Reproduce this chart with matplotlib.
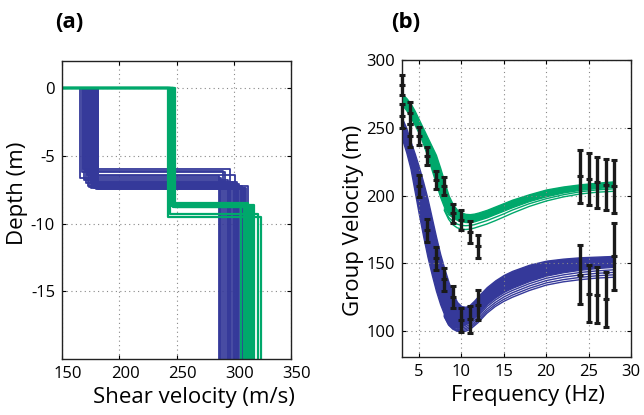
import matplotlib
matplotlib.use("Agg")
import matplotlib.pyplot as plt
from matplotlib.transforms import ScaledTranslation

plt.rcParams['font.family'] = ['Open Sans', 'DejaVu Sans']
plt.rcParams['axes.unicode_minus'] = False

BLUE = '#35399a'
GREEN = '#00a86b'

# ---- panel (a): shear velocity profiles (layer velocity, interface depth, half-space velocity)
blue_v1 = [165.5, 167.5, 169.5, 171, 172, 173, 174, 175, 175.5, 176, 176.5, 177, 177.5,
           178, 178.5, 179, 179, 179.5, 180, 180, 180.5, 181, 181, 181.5, 168, 170, 174.5]
blue_depth = [-6.6, -6.2, -6.8, -7.0, -6.4, -7.2, -7.3, -6.9, -7.4, -7.1, -7.3, -6.95, -7.25,
              -7.35, -7.15, -7.4, -7.05, -7.3, -7.45, -7.2, -7.35, -7.4, -7.1, -7.45, -5.95, -6.1, -6.5]
blue_v2 = [289, 292, 295, 288, 301, 306, 298, 303, 310, 296, 304, 299, 307,
           309, 302, 311, 305, 300, 308, 312, 294, 306, 303, 309, 297, 291, 287]

green_v1 = [243, 244.5, 245.5, 246.5, 247, 248, 249, 244, 242.5]
green_depth = [-8.5, -8.6, -8.7, -8.8, -8.55, -8.65, -8.75, -9.3, -9.55]
green_v2 = [312, 309, 316, 314, 311, 318, 306, 321, 324]

# ---- panel (b): dispersion curves
freq = [3, 3.5, 4, 4.5, 5, 5.5, 6, 6.5, 7, 7.5, 8, 8.5, 9, 9.5, 10, 10.5, 11, 11.5, 12,
        13, 14, 15, 16, 18, 20, 22, 24, 26, 28]
blue_top = [257, 250, 240, 231, 221, 210, 198, 184, 170, 157, 146, 136, 127.5, 121.5, 118.5,
            118, 119.5, 122.5, 126, 132.5, 137.5, 141.5, 144.5, 149, 152, 153.5, 154.5, 155, 155.5]
blue_low = [242, 232, 220, 203, 186, 170, 155, 142, 130, 120, 112, 106.5, 103.5, 103, 103.5,
            105, 107, 110, 113, 120, 125, 129, 132, 137, 141, 143.5, 145.3, 146.6, 147.5]
green_top = [275, 272, 268, 262.5, 256, 249.5, 243, 236.5, 230, 220.5, 210, 200, 193.5, 189.5, 187.5,
             186.5, 186.3, 186.7, 187.5, 189.5, 192, 194.5, 197, 201, 204.5, 206.7, 208.3, 209.5, 210.5]
green_low = [267, 263, 258, 252, 246, 238, 229, 219, 209, 199, 191, 186, 184, 182, 181,
             180.5, 180.5, 181, 182, 184, 186.5, 189, 191.5, 196, 199.5, 202.3, 204.3, 205.6, 206.5]

freq_tail = [8, 8.5, 9, 9.5, 10, 10.5, 11, 11.5, 12, 13, 14, 15, 16, 18, 20, 22, 24, 26, 28]
blue_lines = [
    [112, 106, 103, 102.2, 102.2, 103.2, 105, 107.8, 111, 118, 123, 127, 130, 135, 139, 141.5, 143.3, 144.5, 145.3],
    [111.5, 105.5, 102.5, 101.3, 101.2, 102, 103.6, 106.3, 109.3, 116.2, 121.2, 125.2, 128.3, 133.3, 137.3, 139.8, 141.5, 142.7, 143.4],
    [111, 105, 102, 100.6, 100.3, 101, 102.4, 105, 107.8, 114.6, 119.6, 123.5, 126.6, 131.6, 135.6, 138, 139.7, 140.9, 141.6],
    [110.5, 104.5, 101.5, 100, 99.5, 100, 101.2, 103.8, 106.5, 113.2, 118.2, 122, 125, 130, 134, 136.4, 138, 139.2, 139.8],
]
green_lines = [
    [190, 184, 181, 179, 178, 177.8, 178, 178.5, 179.5, 181.5, 184, 186.5, 189.3, 194, 197.7, 200.6, 202.8, 204.2, 205],
    [189, 182.5, 178.5, 176.3, 175.3, 175, 175.3, 176, 177, 179, 181.5, 184.2, 187, 192, 196, 199, 201.2, 202.5, 203.2],
]

# observed group velocities with error bars
obs_f = [3, 4, 5, 6, 7, 8, 9, 10, 11, 12, 24, 25, 26, 27, 28,
         3, 4, 5, 6, 7, 8, 9, 10, 11, 12, 24, 25, 26, 27, 28]
obs_v = [281.5, 260.8, 244, 229.4, 211.3, 206.9, 186.8, 181.9, 173, 162.7, 214.2, 212.3, 209.8, 208.1, 206.9,
         258.8, 244.1, 206.9, 174.3, 153.7, 138.2, 125.2, 108.3, 108.8, 119.1, 141.7, 127.7, 126.7, 123.5, 155.4]
obs_err = [7.5, 8, 6.7, 6.7, 6.7, 6.7, 6.7, 7.3, 8.3, 8.6, 19.6, 19, 18.9, 19, 19.6,
           8.6, 8.6, 8, 8.6, 8.6, 8.3, 8.3, 9, 9.8, 11, 22, 20.8, 20.8, 20.5, 24.7]


def style_axes(ax):
    ax.grid(True, linestyle=(0, (1, 3)), color='#888888', linewidth=0.8)
    ax.tick_params(direction='in', length=3, top=True, right=True, labelsize=12, pad=5)
    for sp in ax.spines.values():
        sp.set_linewidth(1.0)
        sp.set_color('#222222')


fig = plt.figure(figsize=(6.44, 4.15), dpi=100)
ax1 = fig.add_axes([0.0963, 0.1349, 0.3556, 0.7181])
ax2 = fig.add_axes([0.6242, 0.1398, 0.3556, 0.7157])

# panel (a)
for v1, d, v2 in zip(blue_v1, blue_depth, blue_v2):
    ax1.plot([100, v1, v1, v2, v2], [0, 0, d, d, -25], color=BLUE, lw=1.3)
for v1, d, v2 in zip(green_v1, green_depth, green_v2):
    ax1.plot([100, v1, v1, v2, v2], [0, 0, d, d, -25], color=GREEN, lw=1.6)
ax1.set_xlim(150, 350)
ax1.set_ylim(-20, 2)
ax1.set_xticks([150, 200, 250, 300, 350])
ax1.set_yticks([0, -5, -10, -15])
style_axes(ax1)
# tick labels in the original sit a few pixels right of their ticks
shift = ScaledTranslation(6 / 100, 0, fig.dpi_scale_trans)
for lab in ax1.get_xticklabels():
    lab.set_transform(lab.get_transform() + shift)
ax1.set_xlabel('Shear velocity (m/s)', fontsize=16)
ax1.set_ylabel('Depth (m)', fontsize=16)
ax1.xaxis.set_label_coords(0.576, -0.095)
ax1.yaxis.set_label_coords(-0.15, 0.557)

# panel (b)
ax2.fill_between(freq, blue_low, blue_top, color=BLUE, lw=1.0, edgecolor=BLUE)
for line in blue_lines:
    ax2.plot(freq_tail, line, color=BLUE, lw=1.0)
ax2.fill_between(freq, green_low, green_top, color=GREEN, lw=1.0, edgecolor=GREEN)
for line in green_lines:
    ax2.plot(freq_tail, line, color=GREEN, lw=1.0)
ax2.errorbar(obs_f, obs_v, yerr=obs_err, fmt='+', color='#1a1a1a', ms=5, mew=2.2,
             elinewidth=2.4, capsize=2.2, capthick=2, clip_on=False, zorder=5)
ax2.set_xlim(3, 30)
ax2.set_ylim(81, 300)
ax2.set_xticks([5, 10, 15, 20, 25, 30])
ax2.set_yticks([100, 150, 200, 250, 300])
style_axes(ax2)
ax2.set_xlabel('Frequency (Hz)', fontsize=16)
ax2.set_ylabel('Group Velocity (m)', fontsize=16)
ax2.xaxis.set_label_coords(0.55, -0.095)
ax2.yaxis.set_label_coords(-0.168, 0.46)

fig.text(69 / 644, 1 - 22 / 415, '(a)', fontsize=16, fontweight='bold', ha='center', va='center')
fig.text(406 / 644, 1 - 22 / 415, '(b)', fontsize=16, fontweight='bold', ha='center', va='center')

fig.savefig('out.png', dpi=100)
